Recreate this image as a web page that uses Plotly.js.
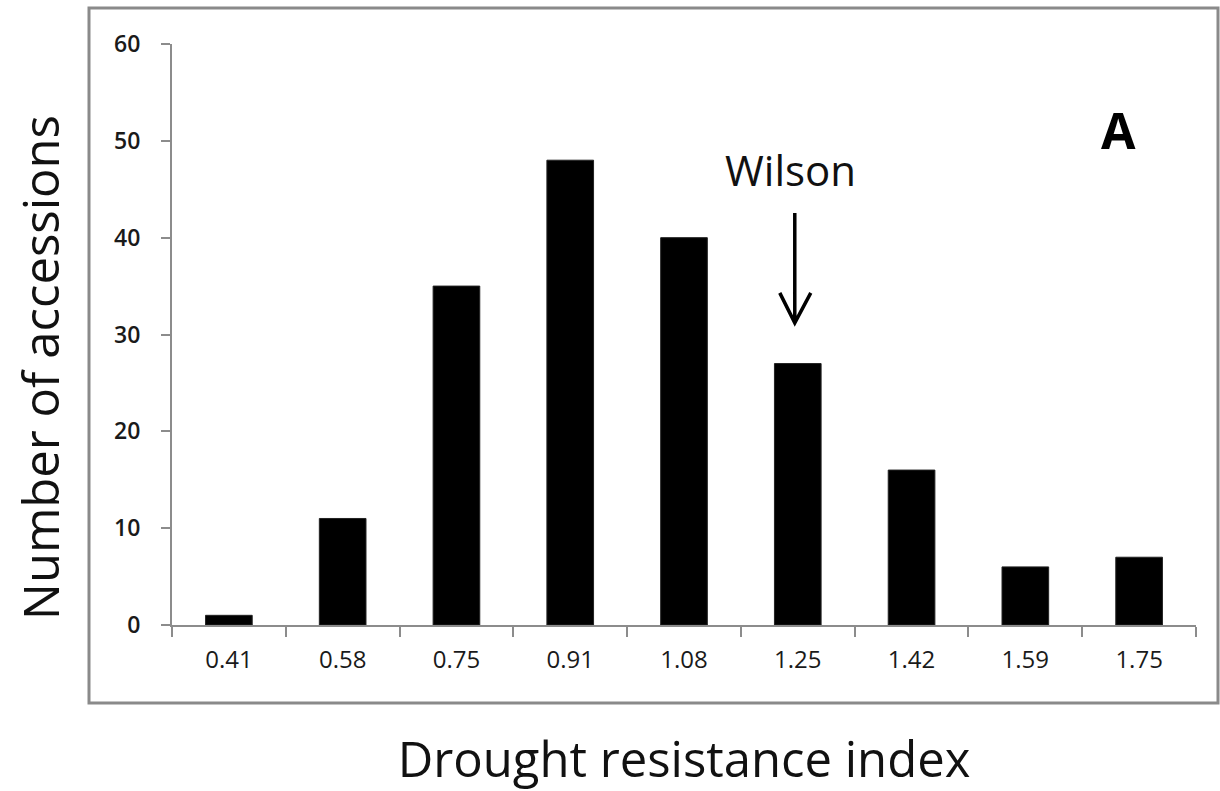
<!DOCTYPE html>
<html>
<head>
<meta charset="utf-8">
<script src="https://cdn.plot.ly/plotly-3.0.1.min.js"></script>
<style>html,body{margin:0;padding:0;background:#fff;}#chart{width:1220px;height:791px;}</style>
</head>
<body>
<div id="chart"></div>
<script>
const categories = ["0.41", "0.58", "0.75", "0.91", "1.08", "1.25", "1.42", "1.59", "1.75"];
const counts = [1, 11, 35, 48, 40, 27, 16, 6, 7];
const yTicks = [0, 10, 20, 30, 40, 50, 60];
const markedCategoryIndex = 5; // "1.25" (Wilson)

const trace = {
  type: "bar",
  x: categories,
  y: counts,
  marker: {color: "#000", line: {color: "#222", width: 1}},
  hoverinfo: "x+y"
};

const axisColor = "#8c8c8c";
const layout = {
  width: 1220, height: 791,
  margin: {l: 172, r: 24, t: 44, b: 166},
  paper_bgcolor: "#fff", plot_bgcolor: "#fff",
  bargap: 0.59,
  showlegend: false,
  font: {family: "Open Sans", color: "#1a1a1a"},
  xaxis: {
    type: "category",
    tickson: "boundaries",
    ticks: "outside", ticklen: 10, tickwidth: 2, tickcolor: axisColor,
    ticklabelstandoff: 12,
    showline: true, linecolor: axisColor, linewidth: 2,
    showgrid: false, zeroline: false,
    tickfont: {family: "Open Sans", size: 24, color: "#1a1a1a"},
    title: {text: "Drought resistance index", font: {family: "Open Sans", size: 49, color: "#111"}, standoff: 70}
  },
  yaxis: {
    range: [0, 60],
    tickvals: yTicks,
    ticks: "outside", ticklen: 9, tickwidth: 2, tickcolor: axisColor,
    ticklabelstandoff: 16,
    showline: true, linecolor: axisColor, linewidth: 2,
    showgrid: false, zeroline: false,
    tickfont: {family: "Open Sans", size: 23, color: "#1a1a1a", weight: 600}
  },
  shapes: [
    {type: "rect", xref: "paper", yref: "paper",
     x0: (89 - 172) / 1024, x1: (1218 - 172) / 1024,
     y0: (625 - 703) / 581, y1: (625 - 8) / 581,
     line: {color: "#8a8a8a", width: 3}, fillcolor: "rgba(0,0,0,0)", layer: "below"},
    {type: "path", xref: "x", yref: "y",
     xsizemode: "pixel", ysizemode: "pixel",
     xanchor: markedCategoryIndex, yanchor: 31.2,
     path: "M -3 0 L -3 110 M -18 30 L -3 0 L 13 30",
     line: {color: "#000", width: 3.5}}
  ],
  annotations: [
    {x: -0.129, y: 0.444, xref: "paper", yref: "paper", text: "Number of accessions",
     textangle: -90, showarrow: false, xanchor: "center", yanchor: "middle",
     font: {family: "Open Sans", size: 49, color: "#111"}},
    {x: markedCategoryIndex, y: 47, xref: "x", yref: "y", text: "Wilson", showarrow: false,
     xshift: -7, font: {family: "Open Sans", size: 42, color: "#111"}},
    {x: 0.924, y: 0.852, xref: "paper", yref: "paper", text: "<b>A</b>", showarrow: false,
     xanchor: "center", yanchor: "middle",
     font: {family: "Open Sans", size: 50, color: "#000"}}
  ]
};

Plotly.newPlot("chart", [trace], layout, {displayModeBar: false, staticPlot: true});
</script>
</body>
</html>
